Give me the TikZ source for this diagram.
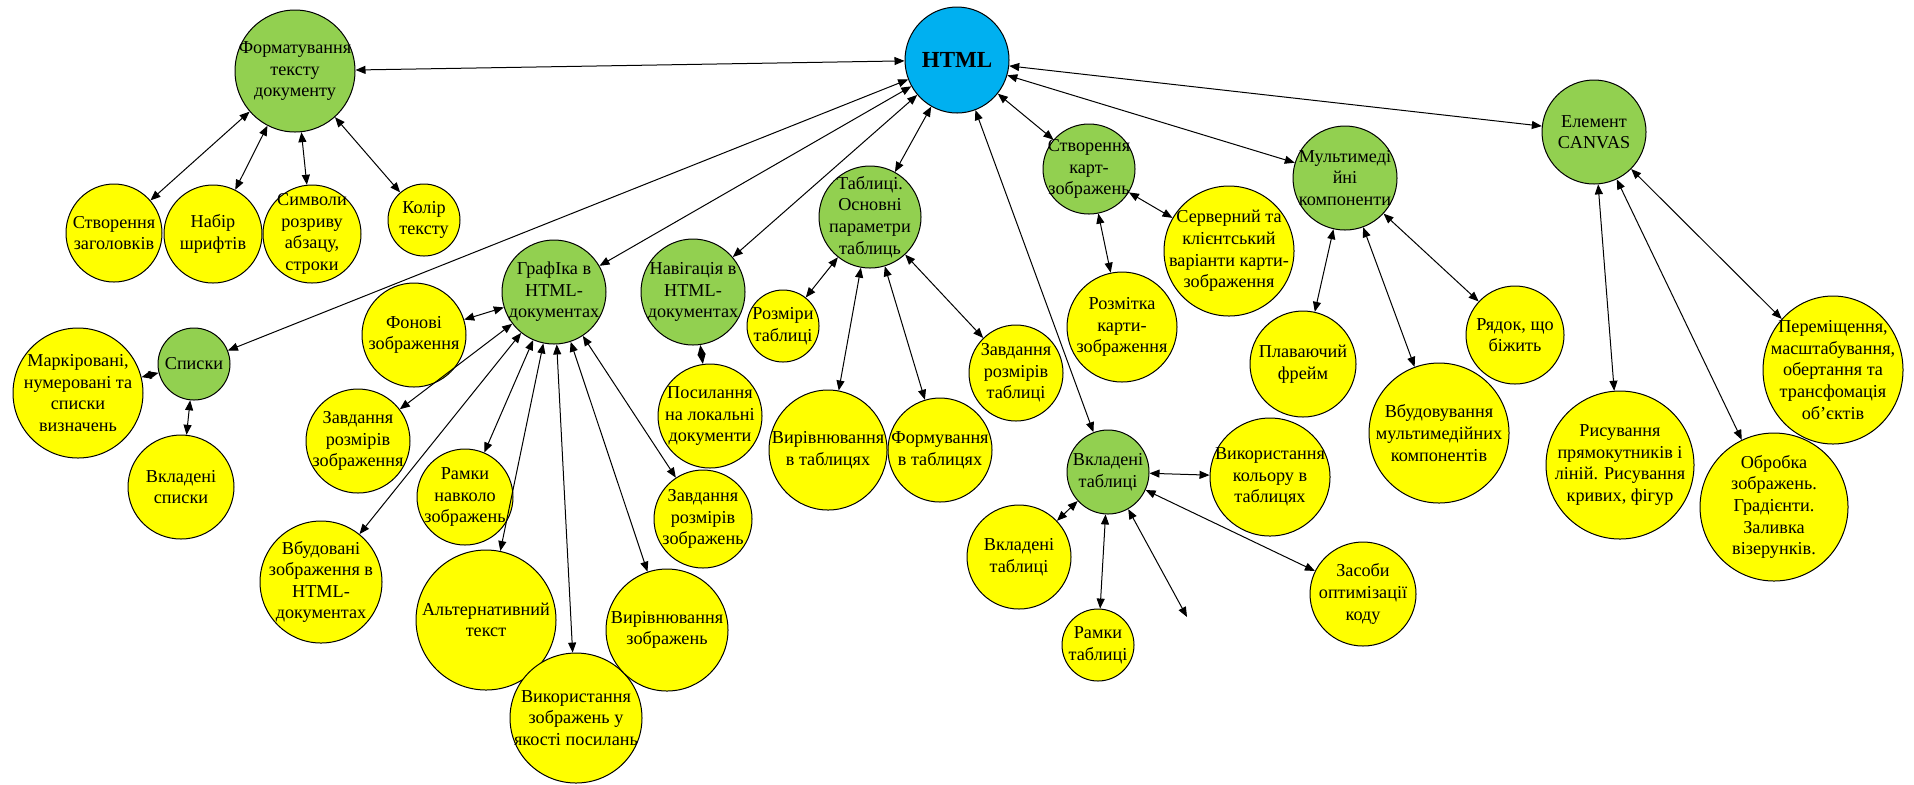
\documentclass[tikz,border=0pt]{standalone}
\usepackage{fontspec}
\setmainfont{Liberation Serif}
\usetikzlibrary{shapes.geometric,arrows.meta}
\definecolor{grn}{HTML}{92D050}
\definecolor{yel}{HTML}{FFFF00}
\definecolor{blu}{HTML}{00B0F0}
\tikzset{
  base/.style={ellipse, draw=black, line width=0.5pt, inner sep=0pt},
  gn/.style 2 args={base, fill=grn, minimum width=#1pt, minimum height=#2pt},
  yn/.style 2 args={base, fill=yel, minimum width=#1pt, minimum height=#2pt},
  bn/.style 2 args={base, fill=blu, minimum width=#1pt, minimum height=#2pt},
  txt/.style={align=center, inner sep=0pt, font=\fontsize{9.1}{10.8}\selectfont},
  lnk/.style={<->, >={Triangle[length=5pt,width=4pt]}, line width=0.5pt},
}
\begin{document}
\begin{tikzpicture}[x=0.5pt,y=-0.5pt]
\path[use as bounding box] (0,0) rectangle (1914,784);
% central
\node[bn={52}{53}, label={[align=center,inner sep=0pt,font=\fontsize{11.5}{13}\selectfont\bfseries]center:HTML}] (html) at (957,60) {};
% formatting group
\node[gn={60}{61}, label={[txt]center:{Форматування\\тексту\\документу}}] (fmt) at (295,71) {};
\node[yn={48}{49}, label={[txt]center:{Створення\\заголовків}}] (zag) at (114,233) {};
\node[yn={49}{49}, label={[txt]center:{Набір\\шрифтів}}] (nabir) at (213,234) {};
\node[yn={49}{49}, label={[txt]center:{Символи\\розриву\\абзацу,\\строки}}] (symv) at (312,234) {};
\node[yn={36}{36}, label={[txt]center:{Колір\\тексту}}] (kolir) at (424,220) {};
% lists
\node[gn={36}{36}, label={[txt]center:{Списки}}] (spysky) at (194,364) {};
\node[yn={65}{65}, label={[txt]center:{Маркіровані,\\нумеровані та\\списки\\визначень}}] (mark) at (78,393) {};
\node[yn={53}{52}, label={[txt]center:{Вкладені\\списки}}] (vspys) at (181,487) {};
% graphics
\node[gn={52}{52}, label={[txt]center:{ГрафІка в\\HTML-\\документах}}] (graf) at (554,292) {};
\node[yn={52}{52}, label={[txt]center:{Фонові\\зображення}}] (fon) at (414,335) {};
\node[yn={52}{52}, label={[txt]center:{Завдання\\розмірів\\зображення}}] (zrz) at (358,441) {};
\node[yn={48}{48}, label={[txt]center:{Рамки\\навколо\\зображень}}] (ramky) at (465,497) {};
\node[yn={61}{61}, label={[txt]center:{Вбудовані\\зображення в\\HTML-\\документах}}] (vbud) at (321,582) {};
\node[yn={70}{70}, label={[txt]center:{Альтернативний\\текст}}] (alt) at (486,620) {};
\node[yn={66}{65}, label={[txt]center:{Використання\\зображень у\\якості посилань}}] (vykz) at (576,718) {};
\node[yn={61}{61}, label={[txt]center:{Вирівнювання\\зображень}}] (vyrz) at (667,630) {};
\node[yn={49}{49}, label={[txt]center:{Завдання\\розмірів\\зображень}}] (zrzb) at (703,519) {};
% navigation
\node[gn={52}{53}, label={[txt]center:{Навігація в\\HTML-\\документах}}] (nav) at (693,292) {};
\node[yn={52}{52}, label={[txt]center:{Посилання\\на локальні\\документи}}] (posyl) at (710,416) {};
% tables
\node[gn={51}{51}, label={[txt]center:{Таблиці.\\Основні\\параметри\\таблиць}}] (tabl) at (870,217) {};
\node[yn={36}{36}, label={[txt]center:{Розміри\\таблиці}}] (rozm) at (783,326) {};
\node[yn={59}{60}, label={[txt]center:{Вирівнювання\\в таблицях}}] (vyrt) at (828,450) {};
\node[yn={52}{52}, label={[txt]center:{Формування\\в таблицях}}] (form) at (940,450) {};
\node[yn={47}{48}, label={[txt]center:{Завдання\\розмірів\\таблиці}}] (zrt) at (1016,373) {};
% image maps
\node[gn={46}{45}, label={[txt]center:{Створення\\карт-\\зображень}}] (kart) at (1089,169) {};
\node[yn={55}{55}, label={[txt]center:{Розмітка\\карти-\\зображення}}] (rozmk) at (1122,327) {};
\node[yn={65}{65}, label={[txt]center:{Серверний та\\клієнтський\\варіанти карти-\\зображення}}] (serv) at (1229,251) {};
% multimedia
\node[gn={52}{52}, label={[txt]center:{Мультимеді\\йні\\компоненти}}] (mm) at (1345,178) {};
\node[yn={53}{53}, label={[txt]center:{Плаваючий\\фрейм}}] (plav) at (1303,364) {};
\node[yn={70}{70}, label={[txt]center:{Вбудовування\\мультимедійних\\компонентів}}] (vbmm) at (1439,433) {};
\node[yn={49}{49}, label={[txt]center:{Рядок, що\\біжить}}] (ryad) at (1515,335) {};
% canvas
\node[gn={52}{52}, label={[txt]center:{Елемент\\CANVAS}}] (canvas) at (1594,132) {};
\node[yn={74}{74}, label={[txt]center:{Рисування\\прямокутників і\\ліній. Рисування\\кривих, фігур}}] (rys) at (1620,465) {};
\node[yn={74}{74}, label={[txt]center:{Обробка\\зображень.\\Градієнти.\\Заливка\\візерунків.}}] (obr) at (1774,507) {};
\node[yn={70}{74}, label={[txt]center:{Переміщення,\\масштабування,\\обертання та\\трансфомація\\об’єктів}}] (perem) at (1833,370) {};
% nested tables
\node[gn={41}{42}, label={[txt]center:{Вкладені\\таблиці}}] (vkl) at (1108,472) {};
\node[yn={60}{59}, label={[txt]center:{Використання\\кольору в\\таблицях}}] (kol) at (1270,477) {};
\node[yn={52}{52}, label={[txt]center:{Вкладені\\таблиці}}] (vkly) at (1019,557) {};
\node[yn={36}{36}, label={[txt]center:{Рамки\\таблиці}}] (ramt) at (1098,645) {};
\node[yn={53}{52}, label={[txt]center:{Засоби\\оптимізації\\коду}}] (zas) at (1363,594) {};
\coordinate (dang) at (1187,617);
% connectors
\foreach \t in {fmt,spysky,graf,nav,tabl,vkl,kart,mm,canvas}
  \draw[lnk] (html) -- (\t);
\foreach \t in {zag,nabir,symv,kolir}
  \draw[lnk] (fmt) -- (\t);
\foreach \t in {mark,vspys}
  \draw[lnk] (spysky) -- (\t);
\foreach \t in {fon,zrz,ramky,vbud,alt,vykz,vyrz,zrzb}
  \draw[lnk] (graf) -- (\t);
\draw[lnk] (nav) -- (posyl);
\foreach \t in {rozm,vyrt,form,zrt}
  \draw[lnk] (tabl) -- (\t);
\foreach \t in {rozmk,serv}
  \draw[lnk] (kart) -- (\t);
\foreach \t in {plav,vbmm,ryad}
  \draw[lnk] (mm) -- (\t);
\foreach \t in {rys,obr,perem}
  \draw[lnk] (canvas) -- (\t);
\foreach \t in {kol,vkly,ramt,zas}
  \draw[lnk] (vkl) -- (\t);
\draw[lnk] (vkl) -- (dang);
\end{tikzpicture}
\end{document}
